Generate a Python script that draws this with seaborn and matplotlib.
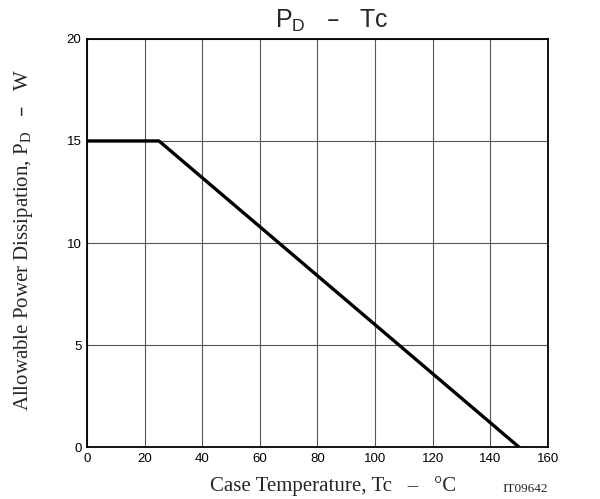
import matplotlib
matplotlib.use("Agg")
import matplotlib.pyplot as plt
import seaborn as sns
import pandas as pd

# derating curve P_D vs case temperature
tc = [0, 25, 150]
pd_w = [15, 15, 0]
x_ticks = [0, 20, 40, 60, 80, 100, 120, 140, 160]
y_ticks = [0, 5, 10, 15, 20]

sns.set_style("white")
plt.rcParams['font.family'] = ['Liberation Sans', 'DejaVu Sans']

df = pd.DataFrame({"Tc": tc, "PD": pd_w})

fig = plt.figure(figsize=(6, 4.99), dpi=100)
ax = fig.add_axes([0.145, 0.104, 0.768, 0.818])

sns.lineplot(data=df, x="Tc", y="PD", ax=ax, color="black", lw=2.4, zorder=3)

ax.set_xlim(0, 160)
ax.set_ylim(0, 20)
ax.set_xticks(x_ticks)
ax.set_yticks(y_ticks)
ax.grid(True, color="#555555", lw=0.8)
for s in ax.spines.values():
    s.set_color("black")
    s.set_linewidth(1.3)
    s.set_visible(True)
ax.tick_params(length=0, labelsize=9.5, pad=4, colors="black")

# title, placed by hand
ax.text(0.531, 1.027, r"$\mathregular{P_D}$   –   Tc", transform=ax.transAxes,
        fontsize=18, ha="center", va="baseline")

ax.set_xlabel("Case Temperature, Tc   –   °C", family=["Liberation Serif"], fontsize=15)
ax.xaxis.set_label_coords(0.534, -0.072)
ax.set_ylabel(r"Allowable Power Dissipation, $\mathregular{P_D}$   –   W",
              family=["Liberation Serif"], fontsize=15)
ax.yaxis.set_label_coords(-0.112, 0.507)
fig.text(0.913, 0.015, "IT09642", family=["Liberation Serif"], fontsize=9.5, ha="right")

fig.savefig("out.png", dpi=100)
